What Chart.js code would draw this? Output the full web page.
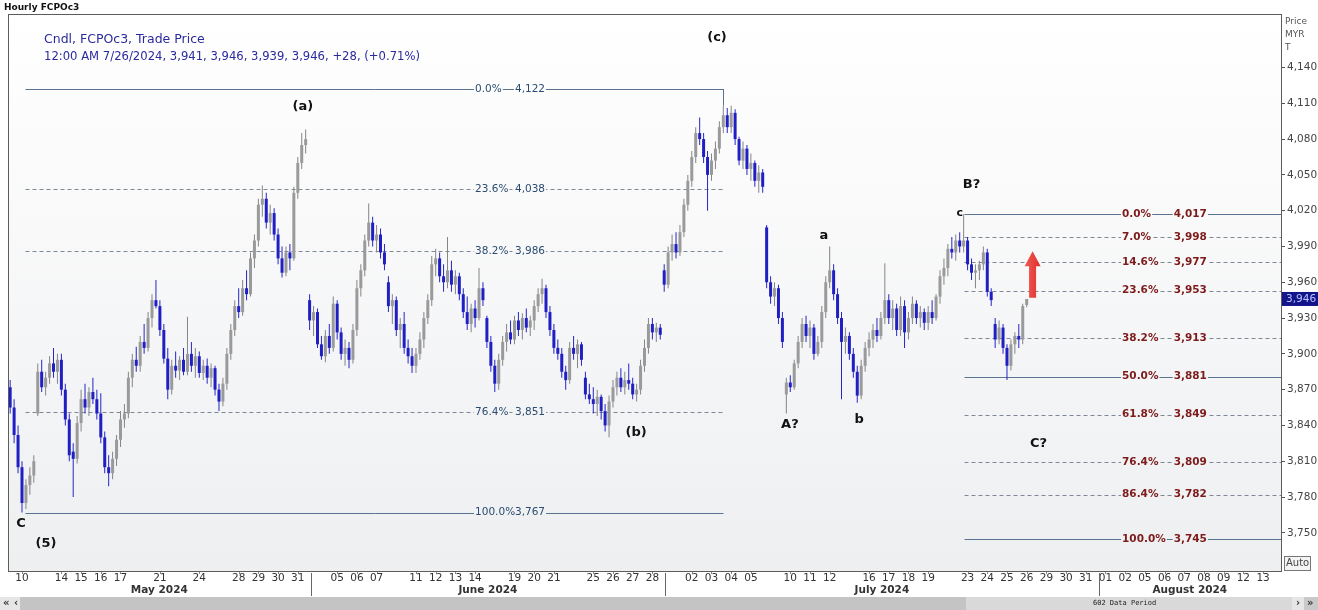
<!DOCTYPE html>
<html><head><meta charset="utf-8">
<script src="https://cdn.jsdelivr.net/npm/chart.js@4.4.1/dist/chart.umd.min.js"></script>
<style>html,body{margin:0;padding:0;background:#fff;overflow:hidden}canvas{display:block}</style>
</head><body>
<canvas id="c" width="1318" height="610"></canvas>
<script>
// ---------- DATA ----------
const title = 'Hourly FCPOc3';
const legendLine1 = 'Cndl, FCPOc3, Trade Price';
const lastBarTime = '12:00 AM 7/26/2024';
const prevSettle = 3918;

// trading days (index = day slot), '' = no label shown
const dayLabels = ['', '10','', '14','15','16','17','','21','','24','','28','29','30','31',
 '','05','06','07','','11','12','13','14','','19','20','21','','25','26','27','28',
 '','02','03','04','05','','10','11','12','','16','17','18','19','','23','24','25','26',
 '29','30','31','01','02','05','06','07','08','09','12','13'];
const monthNames = ['May 2024','June 2024','July 2024','August 2024'];
const monthFirstDay = [0, 16, 34, 56];

// hourly candles, one line per trading day
const opens = [
 3872,3855,3832,
 3805,3775,3790,3798,3850,
 3885,3872,3880,3892,3885,
 3895,3870,3845,3818,3812,
 3842,3862,3855,3868,3862,
 3850,3830,3805,3800,3812,
 3828,3845,3850,3880,3895,
 3890,3910,3905,3930,3945,
 3940,3920,3896,3870,3890,
 3886,3895,3885,3900,3890,
 3898,3884,3890,3880,3888,
 3870,3860,3875,3900,3920,
 3940,3935,3955,3950,3980,
 3995,4025,4030,4010,4018,
 4000,3980,3968,3985,3980,
 4035,4060,4075,3945,3928,
 3935,3908,3898,3915,3905,
 3942,3918,3900,3905,3895,
 3920,3955,3970,3995,4010,
 3995,4000,3985,3960,3940,
 3945,3920,3925,3905,3898,
 3890,3900,3912,3930,3945,
 3975,3980,3965,3960,3970,
 3958,3965,3950,3935,3925,
 3938,3930,3955,3930,3910,
 3890,3875,3895,3910,3918,
 3912,3928,3920,3930,3922,
 3928,3940,3950,3955,3935,
 3920,3905,3900,3885,3878,
 3905,3900,3908,3880,3866,
 3862,3858,3864,3852,3840,
 3860,3872,3880,3872,3878,
 3875,3866,3870,3890,3905,
 3925,3918,3922,3970,3958,
 3985,3992,3985,4002,4025,
 4045,4065,4085,4080,4065,
 4050,4062,4072,4090,4100,
 4090,4102,4080,4062,4072,
 4055,4060,4045,4052,4006,
 3960,3948,3955,3930,3866,
 3876,3872,3892,3910,3925,
 3915,3922,3900,3910,3935,
 3960,3970,3950,3930,3910,
 3915,3900,3885,3865,3890,
 3905,3912,3920,3915,3930,
 3945,3930,3938,3920,3940,
 3918,3930,3942,3930,3935,
 3926,3935,3930,3948,3965,
 3972,3988,3985,3995,3990,
 3995,3975,3968,3970,3975,
 3985,3952,3925,3912,3922,
 3905,3890,3908,3915,3912,
 3941];
const highs = [
 3878,3862,3840,
 3810,3795,3805,3815,3892,
 3895,3885,3898,3905,3900,
 3900,3875,3850,3825,3848,
 3870,3875,3872,3880,3870,
 3867,3835,3815,3818,3832,
 3852,3858,3885,3900,3906,
 3915,3925,3935,3950,3962,
 3945,3925,3905,3895,3902,
 3898,3905,3931,3910,3905,
 3902,3895,3896,3892,3890,
 3875,3880,3905,3925,3945,
 3955,3962,3970,3985,4000,
 4030,4041,4035,4025,4022,
 4005,3990,3990,3992,4040,
 4065,4085,4088,3950,3940,
 3938,3915,3920,3925,3948,
 3945,3922,3912,3910,3925,
 3962,3975,4000,4026,4015,
 4008,4005,3992,3965,3950,
 3948,3930,3935,3912,3905,
 3905,3918,3935,3950,3982,
 3988,3985,3975,3998,3978,
 3970,3968,3955,3948,3942,
 3945,3972,3960,3932,3915,
 3895,3900,3915,3925,3928,
 3932,3935,3934,3938,3932,
 3945,3955,3963,3958,3940,
 3925,3912,3905,3890,3910,
 3915,3912,3910,3885,3875,
 3872,3870,3866,3858,3865,
 3878,3885,3888,3885,3892,
 3880,3875,3895,3912,3930,
 3930,3926,3925,3975,3990,
 4000,4002,4008,4030,4050,
 4070,4090,4098,4085,4070,
 4068,4078,4095,4108,4106,
 4108,4105,4082,4078,4075,
 4068,4062,4058,4055,4008,
 3965,3960,3958,3935,3880,
 3882,3895,3915,3930,3932,
 3928,3925,3915,3940,3965,
 3990,3975,3955,3935,3922,
 3918,3905,3890,3895,3910,
 3918,3925,3930,3935,3976,
 3950,3945,3942,3948,3945,
 3935,3948,3945,3940,3938,
 3940,3945,3950,3970,3980,
 3992,3998,4000,4002,4017,
 3998,3980,3975,3978,3990,
 3988,3955,3930,3928,3925,
 3908,3912,3918,3925,3942,
 3946];
const lows = [
 3850,3825,3800,
 3767,3770,3782,3792,3848,
 3868,3865,3875,3880,3875,
 3865,3840,3810,3780,3808,
 3835,3850,3848,3858,3845,
 3825,3800,3789,3795,3806,
 3822,3838,3846,3872,3885,
 3885,3900,3902,3922,3938,
 3915,3892,3862,3866,3880,
 3878,3882,3882,3885,3880,
 3880,3878,3875,3872,3865,
 3852,3856,3870,3895,3915,
 3930,3932,3945,3948,3972,
 3990,4015,4005,4000,3995,
 3975,3964,3965,3970,3978,
 4030,4055,4068,3920,3915,
 3905,3895,3893,3900,3902,
 3912,3895,3890,3888,3892,
 3915,3948,3965,3990,3990,
 3985,3980,3970,3935,3925,
 3915,3905,3900,3892,3884,
 3884,3895,3905,3925,3940,
 3965,3960,3952,3955,3952,
 3950,3945,3930,3920,3918,
 3922,3928,3940,3905,3885,
 3868,3870,3890,3902,3908,
 3908,3915,3912,3918,3915,
 3920,3935,3942,3930,3915,
 3900,3895,3880,3870,3875,
 3895,3888,3890,3862,3858,
 3850,3848,3845,3835,3830,
 3855,3865,3868,3866,3870,
 3862,3860,3866,3885,3900,
 3912,3910,3912,3952,3955,
 3978,3980,3982,3998,4020,
 4040,4060,4075,4060,4020,
 4045,4055,4068,4085,4085,
 4085,4075,4058,4055,4050,
 4045,4040,4035,4035,3955,
 3942,3940,3925,3905,3850,
 3868,3870,3888,3905,3910,
 3905,3895,3898,3905,3930,
 3955,3945,3925,3862,3900,
 3895,3880,3859,3862,3885,
 3898,3905,3910,3912,3925,
 3925,3920,3915,3915,3905,
 3912,3925,3925,3922,3920,
 3920,3925,3928,3942,3958,
 3965,3980,3978,3985,3985,
 3970,3962,3955,3962,3970,
 3948,3940,3905,3908,3900,
 3878,3886,3900,3905,3908,
 3939];
const closes = [
 3855,3832,3805,
 3775,3790,3798,3810,3885,
 3872,3880,3892,3885,3895,
 3870,3845,3815,3812,3842,
 3862,3855,3868,3862,3850,
 3830,3805,3800,3812,3828,
 3845,3850,3880,3895,3890,
 3910,3905,3930,3945,3940,
 3920,3896,3870,3890,3886,
 3895,3885,3900,3890,3898,
 3884,3890,3880,3888,3870,
 3860,3875,3900,3920,3940,
 3935,3955,3950,3980,3995,
 4025,4030,4010,4018,4000,
 3980,3968,3985,3980,4035,
 4060,4075,4080,3928,3935,
 3908,3898,3915,3905,3942,
 3918,3900,3905,3895,3920,
 3955,3970,3995,4010,3995,
 4000,3985,3975,3940,3945,
 3920,3925,3905,3898,3890,
 3900,3912,3930,3945,3975,
 3980,3965,3960,3970,3958,
 3965,3950,3935,3925,3938,
 3930,3955,3945,3910,3890,
 3875,3895,3910,3918,3912,
 3928,3920,3930,3922,3928,
 3940,3950,3955,3935,3920,
 3905,3900,3885,3878,3905,
 3900,3908,3895,3866,3862,
 3858,3864,3852,3840,3860,
 3872,3880,3872,3878,3875,
 3866,3870,3890,3905,3925,
 3918,3922,3916,3958,3985,
 3992,3985,4002,4025,4045,
 4065,4085,4080,4065,4050,
 4062,4072,4090,4100,4090,
 4102,4080,4062,4072,4055,
 4060,4045,4052,4040,3960,
 3948,3955,3930,3910,3876,
 3872,3892,3910,3925,3915,
 3922,3900,3910,3935,3960,
 3970,3950,3930,3910,3915,
 3900,3885,3865,3890,3905,
 3912,3920,3915,3930,3945,
 3930,3938,3920,3940,3918,
 3930,3942,3930,3935,3926,
 3935,3930,3948,3965,3972,
 3988,3985,3995,3990,3995,
 3975,3968,3970,3975,3985,
 3952,3945,3912,3922,3905,
 3890,3908,3915,3912,3940,
 3946];

// price axis ticks
const priceTicks = [3750,3780,3810,3840,3870,3900,3930,3960,3990,4020,4050,4080,4110,4140];

// Fibonacci retracements
const fibAPct = ['0.0%','23.6%','38.2%','76.4%','100.0%'];
const fibAPrice = [4122,4038,3986,3851,3767];
const fibBPct = ['0.0%','7.0%','14.6%','23.6%','38.2%','50.0%','61.8%','76.4%','86.4%','100.0%'];
const fibBPrice = [4017,3998,3977,3953,3913,3881,3849,3809,3782,3745];

// wave labels: text, day position, price
const waveText = ['(a)','(c)','(b)','C','(5)','A?','a','b','B?','c','C?'];
const waveDay  = [15.26,36.28,32.17,0.95,2.22,39.98,41.7,43.5,49.2,48.6,52.6];
const wavePrice= [4107,4165,3834,3758,3741,3841,3999,3845,4042,4018,3825];

// ---------- LAYOUT / STYLE ----------
const X_MIN = 0.29, X_MAX = 64.91, Y_MIN = 3718, Y_MAX = 4184;
const BARS_PER_DAY = 5, FIRST_SLOT = 2;
const FONT = '"DejaVu Sans", Verdana, sans-serif';
const UP = '#9a9a9a', UP_W = '#858585', DN = '#1f1fc4', DN_W = '#2626c8';

const fibA = {from: 1.15, to: 36.6, pctX: 24.0, priceX: 27.55, color: '#2b4c70', weight: '', pcts: fibAPct, prices: fibAPrice};
const fibB = {from: 48.8, to: X_MAX, pctX: 56.84, priceX: 61.15, color: '#7d1b1b', weight: 'bold ', pcts: fibBPct, prices: fibBPrice};
const solidPct = ['0.0%','50.0%','100.0%'];
const arrow = {day: 52.3, from: 3947, to: 3986};

const wicks = [], bodies = [], wickCol = [], bodyCol = [];
for (let i = 0; i < closes.length; i++) {
  const x = (FIRST_SLOT + i) / BARS_PER_DAY;
  const up = closes[i] >= opens[i];
  wicks.push({x, y: [Math.min(lows[i], opens[i], closes[i]), Math.max(highs[i], opens[i], closes[i])]});
  bodies.push({x, y: [opens[i], closes[i]]});
  wickCol.push(up ? UP_W : DN_W);
  bodyCol.push(up ? UP : DN);
}
const fmt = v => v.toLocaleString('en-US');
const n = closes.length - 1;
const chg = closes[n] - prevSettle;
const legendLine2 = `${lastBarTime}, ${fmt(opens[n])}, ${fmt(highs[n])}, ${fmt(lows[n])}, ${fmt(closes[n])}, ${chg >= 0 ? '+' : ''}${chg}, (${chg >= 0 ? '+' : ''}${(chg / prevSettle * 100).toFixed(2)}%)`;

function textBg(ctx, txt, x, y, align, bg) {
  const w = ctx.measureText(txt).width;
  const lx = align === 'left' ? x : x - w;
  ctx.fillStyle = bg; ctx.fillRect(lx - 1, y - 6, w + 2, 12);
}

const decor = {
  id: 'decor',
  beforeDraw(chart) {
    const {ctx, chartArea: a} = chart;
    ctx.save();
    ctx.fillStyle = '#fff'; ctx.fillRect(0, 0, chart.width, chart.height);
    const g = ctx.createLinearGradient(0, a.top, 0, a.bottom);
    g.addColorStop(0, '#ffffff'); g.addColorStop(1, '#eeeff1');
    chart.$bg = g;
    ctx.fillStyle = g; ctx.fillRect(a.left, a.top, a.right - a.left, a.bottom - a.top);
    ctx.restore();
  },
  beforeDatasetsDraw(chart) {
    const {ctx, chartArea: a, scales: {x, y}} = chart;
    ctx.save();
    ctx.beginPath(); ctx.rect(a.left, a.top, a.right - a.left, a.bottom - a.top); ctx.clip();
    [fibA, fibB].forEach(f => {
      const x0 = Math.round(x.getPixelForValue(f.from)) + 0.5;
      const x1 = Math.min(a.right, Math.round(x.getPixelForValue(f.to)) + 0.5);
      f.prices.forEach((p, k) => {
        const yy = Math.round(y.getPixelForValue(p)) + 0.5;
        const solid = solidPct.includes(f.pcts[k]);
        ctx.strokeStyle = solid ? '#5a7391' : '#7f8894';
        ctx.lineWidth = 1;
        ctx.setLineDash(solid ? [] : [4, 3]);
        ctx.beginPath(); ctx.moveTo(x0, yy); ctx.lineTo(x1, yy); ctx.stroke();
      });
      ctx.setLineDash([]);
      ctx.font = f.weight + '10.5px ' + FONT;
      ctx.textBaseline = 'middle';
      f.prices.forEach((p, k) => {
        const yy = y.getPixelForValue(p);
        const px = x.getPixelForValue(f.pctX), qx = x.getPixelForValue(f.priceX);
        textBg(ctx, f.pcts[k], px, yy, 'left', chart.$bg);
        textBg(ctx, fmt(p), qx, yy, 'right', chart.$bg);
        ctx.fillStyle = f.color;
        ctx.textAlign = 'left'; ctx.fillText(f.pcts[k], px, yy);
        ctx.textAlign = 'right'; ctx.fillText(fmt(p), qx, yy);
      });
    });
    // end drop of first retracement to the candle high
    const endIdx = Math.round(fibA.to * BARS_PER_DAY) - FIRST_SLOT;
    const ex = Math.round(x.getPixelForValue(fibA.to)) + 0.5;
    ctx.strokeStyle = '#5a7391';
    ctx.beginPath(); ctx.moveTo(ex, y.getPixelForValue(fibAPrice[0])); ctx.lineTo(ex, y.getPixelForValue(highs[endIdx])); ctx.stroke();
    ctx.restore();
  },
  afterDatasetsDraw(chart) {
    const {ctx, scales: {x, y}} = chart;
    ctx.save();
    ctx.fillStyle = '#111'; ctx.textAlign = 'center'; ctx.textBaseline = 'middle';
    waveText.forEach((t, k) => {
      ctx.font = (t === 'c' ? 'bold 11px ' : 'bold 13px ') + FONT;
      ctx.fillText(t, x.getPixelForValue(waveDay[k]), y.getPixelForValue(wavePrice[k]));
    });
    // red arrow
    const ax = x.getPixelForValue(arrow.day), yb = y.getPixelForValue(arrow.from), yt = y.getPixelForValue(arrow.to);
    const g = ctx.createLinearGradient(ax - 8, 0, ax + 8, 0);
    g.addColorStop(0, '#f05a55'); g.addColorStop(1, '#e0302c');
    ctx.fillStyle = g;
    ctx.beginPath();
    ctx.moveTo(ax, yt); ctx.lineTo(ax + 8, yt + 15); ctx.lineTo(ax + 3.5, yt + 15); ctx.lineTo(ax + 3.5, yb);
    ctx.lineTo(ax - 3.5, yb); ctx.lineTo(ax - 3.5, yt + 15); ctx.lineTo(ax - 8, yt + 15); ctx.closePath(); ctx.fill();
    ctx.restore();
  },
  afterDraw(chart) {
    const {ctx, chartArea: a, scales: {x, y}} = chart;
    ctx.save();
    // panel border
    ctx.strokeStyle = '#5c5c5c'; ctx.lineWidth = 1;
    ctx.strokeRect(a.left + 0.5, a.top - 0.5, a.right - a.left, a.bottom - a.top + 1);
    // header
    ctx.fillStyle = '#111'; ctx.font = 'bold 9px ' + FONT; ctx.textBaseline = 'middle'; ctx.textAlign = 'left';
    ctx.fillText(title, 4, 8);
    // legend
    ctx.fillStyle = '#2a2a9e'; ctx.font = '12.5px ' + FONT;
    ctx.fillText(legendLine1, 44, 40);
    ctx.fillText(legendLine2, 44, 57, 376);
    // axis title
    ctx.fillStyle = '#555'; ctx.font = '9px ' + FONT;
    ctx.fillText('Price', 1285, 22); ctx.fillText('MYR', 1285, 35); ctx.fillText('T', 1285, 48);
    // last price tag
    const ly = y.getPixelForValue(closes[n]);
    ctx.fillStyle = '#14148a'; ctx.fillRect(a.right + 1, ly - 7, chart.width - a.right - 1, 14);
    ctx.fillStyle = '#b8c4ff'; ctx.font = '10.5px ' + FONT; ctx.fillText(fmt(closes[n]), a.right + 5, ly);
    // Auto box
    ctx.fillStyle = '#f4f4f4'; ctx.fillRect(1284, 556, 26, 14);
    ctx.strokeStyle = '#777'; ctx.strokeRect(1284.5, 556.5, 26, 14);
    ctx.fillStyle = '#444'; ctx.font = '10px ' + FONT; ctx.fillText('Auto', 1286, 563.5);
    // x axis day labels
    ctx.textAlign = 'center'; ctx.font = '10.5px ' + FONT; ctx.fillStyle = '#333'; ctx.strokeStyle = '#888';
    dayLabels.forEach((t, d) => {
      if (!t) return;
      const px = x.getPixelForValue(d);
      if (px < a.left || px > a.right) return;
      ctx.beginPath(); ctx.moveTo(Math.round(px) + 0.5, a.bottom + 1); ctx.lineTo(Math.round(px) + 0.5, a.bottom + 3); ctx.stroke();
      ctx.fillText(t, px, a.bottom + 7);
    });
    // months
    const seps = monthFirstDay.map(d => d === 0 ? a.left : x.getPixelForValue(d - 0.35));
    ctx.font = 'bold 10.5px ' + FONT; ctx.fillStyle = '#333'; ctx.strokeStyle = '#666';
    monthNames.forEach((m, k) => {
      const s = seps[k], e = k + 1 < seps.length ? seps[k + 1] : a.right;
      if (k > 0) { ctx.beginPath(); ctx.moveTo(Math.round(s) + 0.5, a.bottom + 2); ctx.lineTo(Math.round(s) + 0.5, 596); ctx.stroke(); }
      ctx.fillText(m, (s + e) / 2, a.bottom + 19);
    });
    // scrollbar
    ctx.fillStyle = '#c4c4c4'; ctx.fillRect(20, 597, 1272, 13);
    ctx.fillStyle = '#d9d9d9'; ctx.fillRect(966, 597, 326, 13);
    ctx.fillStyle = '#e6e6e6'; ctx.fillRect(0, 597, 20, 13); ctx.fillRect(1292, 597, 26, 13);
    ctx.fillStyle = '#c9c9c9'; ctx.fillRect(1304, 597, 14, 13);
    ctx.fillStyle = '#333'; ctx.font = 'bold 10px ' + FONT; ctx.textAlign = 'left';
    ctx.fillText('\u00ab', 3, 603.5); ctx.fillText('\u2039', 14, 603.5);
    ctx.fillText('\u203a', 1296, 603.5); ctx.fillText('\u00bb', 1307, 603.5);
    ctx.font = '7px "DejaVu Sans Mono", monospace'; ctx.fillStyle = '#222';
    ctx.fillText('602 Data Period', 1093, 603.5);
    ctx.restore();
  }
};

new Chart(document.getElementById('c'), {
  type: 'bar',
  data: {datasets: [
    {data: wicks, backgroundColor: wickCol, barThickness: 1, grouped: false, order: 2, inflateAmount: 0},
    {data: bodies, backgroundColor: bodyCol, barThickness: 3, grouped: false, order: 1, minBarLength: 1, inflateAmount: 0}
  ]},
  options: {
    responsive: false, animation: false, events: [],
    layout: {padding: {left: 8, top: 15, bottom: 39, right: 0}},
    plugins: {legend: {display: false}, tooltip: {enabled: false}},
    scales: {
      x: {type: 'linear', min: X_MIN, max: X_MAX, display: false, offset: false},
      y: {position: 'right', min: Y_MIN, max: Y_MAX,
        afterFit(s) { s.width = 37; },
        afterBuildTicks(s) { s.ticks = priceTicks.map(v => ({value: v})); },
        ticks: {font: {family: FONT, size: 10.5}, color: '#444', padding: 2, autoSkip: false, callback: v => fmt(v)},
        grid: {drawOnChartArea: false, tickLength: 4, color: '#555'},
        border: {color: '#555'}
      }
    }
  },
  plugins: [decor]
});
</script>
</body></html>
